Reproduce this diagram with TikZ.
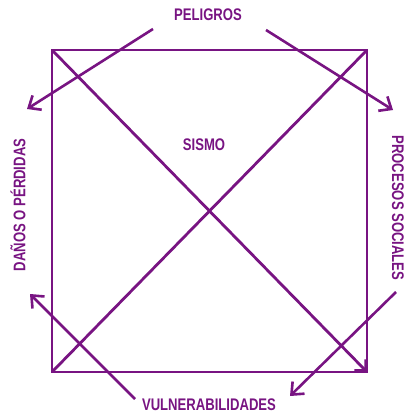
\documentclass[tikz,border=0pt]{standalone}
\usepackage{fontspec}
\usepackage{tikz}
\usetikzlibrary{arrows.meta,positioning}
\newfontfamily\etiqfont{Liberation Sans}[FakeStretch=0.78]
\definecolor{morado}{RGB}{120,20,130}

\begin{document}
\begin{tikzpicture}[x=1pt,y=-1pt,
etiq/.style={text=morado,font=\etiqfont\bfseries\fontsize{16.8}{20}\selectfont,inner sep=0pt},
borde/.style={draw=morado,line width=2.8pt},
flecha/.style={draw=morado,line width=2.6pt,-{Straight Barb[length=10pt,width=17pt]}}
]
\useasboundingbox (0,0) rectangle (405,414);
% esquinas del cuadro
\coordinate (nw) at (52,50);
\coordinate (ne) at (367,50);
\coordinate (se) at (367,372);
\coordinate (sw) at (52,372);
\draw[borde] (nw) -- (ne) -- (se) -- (sw) -- cycle;
\draw[borde] (sw) -- (ne);
\draw[borde,-{Straight Barb[length=8pt,width=16pt]}] (nw) -- (se);

\node[etiq] (peligros) at (208,15) {PELIGROS};
\node[etiq] (sismo) at (204,145) {SISMO};
\node[etiq] (vulnerab) at (209,405) {VULNERABILIDADES};
\node[etiq,rotate=90] (danos) at (18,205) {DAÑOS O PÉRDIDAS};
\node[etiq,rotate=-90] (procesos) at (398,208) {PROCESOS SOCIALES};

% extremos libres de las flechas
\coordinate (p1) at (153,29);
\coordinate (p2) at (266,30);
\coordinate (v1) at (135,399);
\coordinate (s1) at (396,292);
\coordinate (d1) at (27,109);
\coordinate (d2) at (30,294);
\coordinate (r1) at (393,110);
\coordinate (r2) at (290,396);

\draw[flecha] (p1) -- (d1);
\draw[flecha] (p2) -- (r1);
\draw[flecha] (v1) -- (d2);
\draw[flecha] (s1) -- (r2);
\end{tikzpicture}
\end{document}
